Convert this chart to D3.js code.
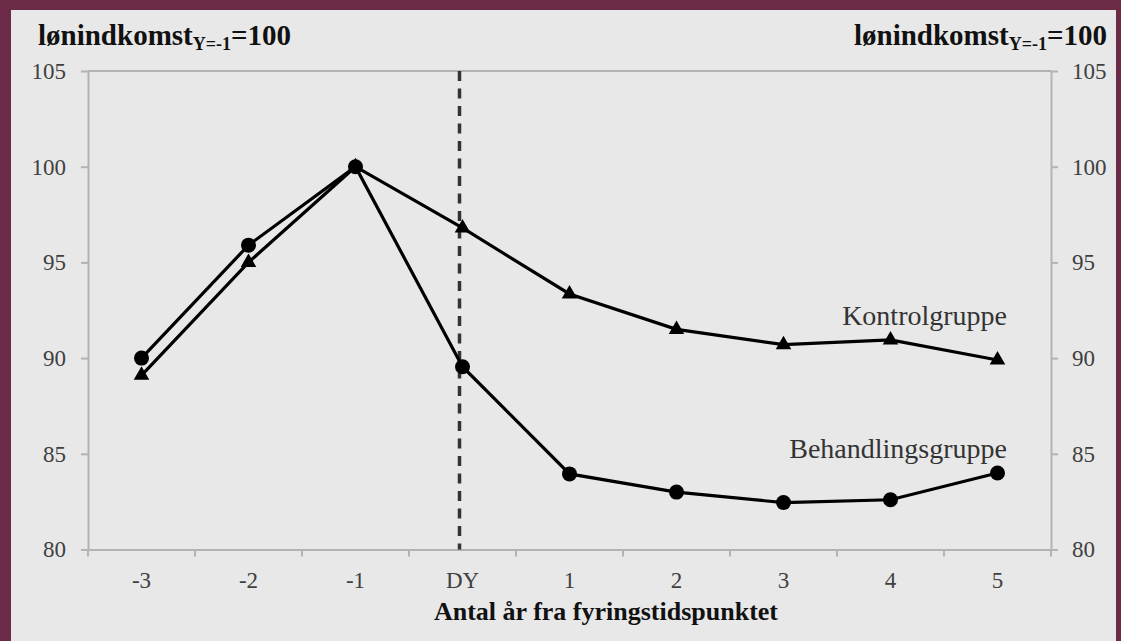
<!DOCTYPE html>
<html>
<head>
<meta charset="utf-8">
<script src="https://cdn.jsdelivr.net/npm/d3@7"></script>
<style>
  body { margin: 0; background: #6b2a46; }
  svg { display: block; }
</style>
</head>
<body>
<svg id="canvas" width="1121" height="641"></svg>
<script>
let categories = ['-3', '-2', '-1', 'DY', '1', '2', '3', '4', '5']
let behandling = [90.0, 95.9, 100, 89.55, 83.95, 83.0, 82.45, 82.6, 84.0]
let kontrol = [89.1, 95.0, 100, 96.8, 93.35, 91.5, 90.7, 90.95, 89.9]
let yTicks = [80, 85, 90, 95, 100, 105]

let serif = "'Liberation Serif', 'Times New Roman', serif"
let axisGray = '#b3b3b3'

let canvas = d3.select('#canvas')

// panel inside the maroon frame
canvas.append('rect')
      .attr('x', 11)
      .attr('y', 10)
      .attr('width', 1105)
      .attr('height', 631)
      .attr('fill', '#e8e8e8')

let x = d3.scaleBand()
          .domain(categories)
          .range([88, 1051])

let y = d3.scaleLinear()
          .domain([80, 105])
          .range([549.5, 71])

let styleAxis = (g) => {
    g.selectAll('path, line').attr('stroke', axisGray).attr('stroke-width', 2)
    g.selectAll('text')
     .attr('fill', '#404040')
     .style('font-family', serif)
     .style('font-size', '23px')
}

// y axes, both sides
canvas.append('g')
      .attr('transform', 'translate(88,0)')
      .call(d3.axisLeft(y).tickValues(yTicks).tickSize(7).tickSizeOuter(0).tickPadding(15))
      .call(styleAxis)

canvas.append('g')
      .attr('transform', 'translate(1051,0)')
      .call(d3.axisRight(y).tickValues(yTicks).tickSize(7).tickSizeOuter(0).tickPadding(14))
      .call(styleAxis)

// top border line at 105
canvas.append('line')
      .attr('x1', x.range()[0])
      .attr('x2', x.range()[1])
      .attr('y1', y(105))
      .attr('y2', y(105))
      .attr('stroke', axisGray)
      .attr('stroke-width', 2)

// x axis: labels centred in bands, ticks between bands
let xAxis = canvas.append('g')
      .attr('transform', 'translate(0,' + y(80) + ')')
      .call(d3.axisBottom(x).tickSize(0).tickSizeOuter(0).tickPadding(22))
      .call(styleAxis)

let edges = categories.map((c) => x(c)).concat([x.range()[1]])
xAxis.selectAll('.edge')
     .data(edges)
     .enter()
     .append('line')
     .attr('class', 'edge')
     .attr('x1', (d) => d)
     .attr('x2', (d) => d)
     .attr('y1', 0)
     .attr('y2', 7)
     .attr('stroke', axisGray)
     .attr('stroke-width', 2)

// dashed line at DY
canvas.append('line')
      .attr('x1', x('DY') + x.bandwidth() / 2 - 3)
      .attr('x2', x('DY') + x.bandwidth() / 2 - 3)
      .attr('y1', y(105))
      .attr('y2', y(80))
      .attr('stroke', '#333')
      .attr('stroke-width', 3.5)
      .attr('stroke-dasharray', '10,7.5')

let cx = (d, i) => x(categories[i]) + x.bandwidth() / 2

let line = d3.line()
             .x(cx)
             .y((d) => y(d))

canvas.append('path')
      .datum(kontrol)
      .attr('d', line)
      .attr('fill', 'none')
      .attr('stroke', '#000')
      .attr('stroke-width', 3.2)

canvas.append('path')
      .datum(behandling)
      .attr('d', line)
      .attr('fill', 'none')
      .attr('stroke', '#000')
      .attr('stroke-width', 3.2)

canvas.selectAll('.tri')
      .data(kontrol)
      .enter()
      .append('path')
      .attr('class', 'tri')
      .attr('d', d3.symbol(d3.symbolTriangle, 105))
      .attr('transform', (d, i) => 'translate(' + cx(d, i) + ',' + y(d) + ')')
      .attr('fill', '#000')

canvas.selectAll('.dot')
      .data(behandling)
      .enter()
      .append('circle')
      .attr('class', 'dot')
      .attr('cx', cx)
      .attr('cy', (d) => y(d))
      .attr('r', 7.5)
      .attr('fill', '#000')

// series labels
canvas.append('text')
      .attr('x', 1007)
      .attr('y', 325)
      .attr('text-anchor', 'end')
      .attr('fill', '#333')
      .style('font-family', serif)
      .style('font-size', '28px')
      .text('Kontrolgruppe')

canvas.append('text')
      .attr('x', 1007)
      .attr('y', 458)
      .attr('text-anchor', 'end')
      .attr('fill', '#333')
      .style('font-family', serif)
      .style('font-size', '28px')
      .text('Behandlingsgruppe')

// unit titles over both axes
let unitTitle = (xPos, anchor) => {
    let t = canvas.append('text')
                  .attr('x', xPos)
                  .attr('y', 45)
                  .attr('text-anchor', anchor)
                  .attr('fill', '#111')
                  .style('font-family', serif)
                  .style('font-size', '29px')
                  .style('font-weight', 'bold')
    t.append('tspan').text('lønindkomst')
    t.append('tspan').attr('dy', 5).style('font-size', '18px').text('Y=-1')
    t.append('tspan').attr('dy', -5).text('=100')
}
unitTitle(38, 'start')
unitTitle(1107, 'end')

// x axis title
canvas.append('text')
      .attr('x', 606)
      .attr('y', 620)
      .attr('text-anchor', 'middle')
      .attr('fill', '#111')
      .style('font-family', serif)
      .style('font-size', '26px')
      .style('font-weight', 'bold')
      .text('Antal år fra fyringstidspunktet')
</script>
</body>
</html>
